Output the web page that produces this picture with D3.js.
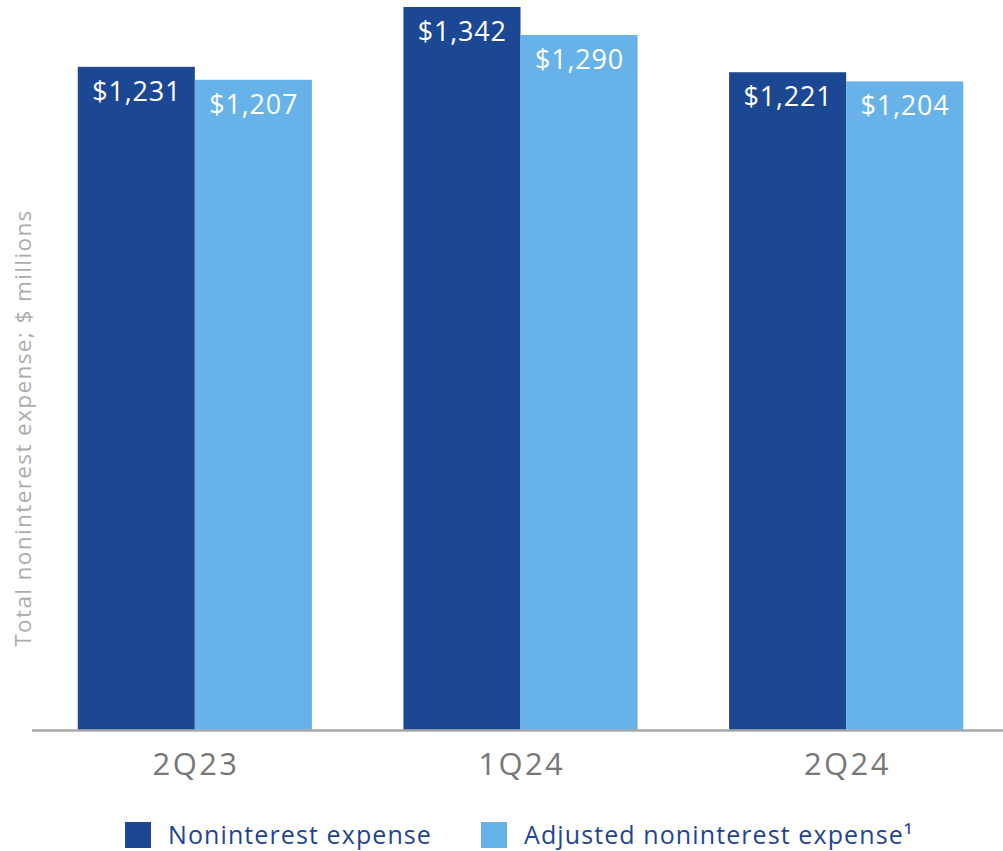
<!DOCTYPE html>
<html>
<head>
<meta charset="utf-8">
<script src="https://cdn.jsdelivr.net/npm/d3@7"></script>
<style>
  html, body { margin: 0; padding: 0; background: #fff; }
  svg { display: block; }
</style>
</head>
<body>
<svg id="chart" width="1003" height="851"></svg>
<script>
// Quarterly noninterest expense, $ millions
const quarters = ["2Q23", "1Q24", "2Q24"];
const seriesNames = ["Noninterest expense", "Adjusted noninterest expense\u00B9"];
const nonintExpense = [1231, 1342, 1221];
const adjustedExpense = [1207, 1290, 1204];
const yTitle = "Total noninterest expense; $ millions";

const colors = ["#1c4793", "#67b3e9"];
const fontFamily = "'Open Sans', 'Noto Sans', sans-serif";

const rows = quarters.map((q, i) => ({
  quarter: q,
  values: [nonintExpense[i], adjustedExpense[i]]
}));

const svg = d3.select("#chart");
const baseY = 730.5;
const topY = 7;

const x0 = d3.scaleBand()
  .domain(quarters)
  .range([32, 1009])
  .paddingInner(0.281)
  .paddingOuter(0.1405);

const x1 = d3.scaleBand()
  .domain([0, 1])
  .range([0, x0.bandwidth()]);

const y = d3.scaleLinear()
  .domain([0, 1342])
  .range([baseY, topY]);

// bars
const groups = svg.append("g").selectAll("g")
  .data(rows)
  .join("g")
  .attr("transform", d => `translate(${x0(d.quarter)},0)`);

groups.selectAll("rect")
  .data(d => d.values.map((v, k) => ({ v, k })))
  .join("rect")
  .attr("x", d => x1(d.k))
  .attr("width", x1.bandwidth())
  .attr("y", d => y(d.v))
  .attr("height", d => y(0) - y(d.v))
  .attr("fill", d => colors[d.k]);

// value labels inside the bar tops
groups.selectAll("text.val")
  .data(d => d.values.map((v, k) => ({ v, k })))
  .join("text")
  .attr("class", "val")
  .attr("x", d => x1(d.k) + x1.bandwidth() / 2 + 0.4)
  .attr("y", d => y(d.v) + 34)
  .attr("text-anchor", "middle")
  .attr("fill", "#fff")
  .attr("font-family", fontFamily)
  .attr("font-size", 27)
  .attr("letter-spacing", 0.8)
  .text(d => "$" + d3.format(",")(d.v));

// baseline / x axis
const xAxis = d3.axisBottom(x0).tickSize(0).tickPadding(0);
const axisG = svg.append("g")
  .attr("transform", `translate(0,${baseY})`)
  .call(xAxis);
axisG.select(".domain").remove();
axisG.append("line")
  .attr("x1", 32).attr("x2", 1003)
  .attr("y1", 0).attr("y2", 0)
  .attr("stroke", "#a9a9a9")
  .attr("stroke-width", 2.5);
axisG.selectAll(".tick text")
  .attr("dy", 0)
  .attr("y", 44)
  .attr("x", 1.2)
  .attr("fill", "#777")
  .attr("font-family", fontFamily)
  .attr("font-size", 31)
  .attr("letter-spacing", 2.4);

// y-axis title
svg.append("text")
  .attr("transform", "translate(31,428) rotate(-90)")
  .attr("text-anchor", "middle")
  .attr("fill", "#acacac")
  .attr("font-family", fontFamily)
  .attr("font-size", 22.5)
  .attr("letter-spacing", 1.4)
  .text(yTitle);

// legend
const legendItems = [
  { name: seriesNames[0], color: colors[0], x: 125 },
  { name: seriesNames[1], color: colors[1], x: 481 }
];
const lg = svg.append("g").selectAll("g")
  .data(legendItems)
  .join("g")
  .attr("transform", d => `translate(${d.x},822)`);
lg.append("rect")
  .attr("width", 26).attr("height", 26)
  .attr("fill", d => d.color);
lg.append("text")
  .attr("x", 43)
  .attr("y", 22)
  .attr("fill", "#1f4494")
  .attr("font-family", fontFamily)
  .attr("font-size", 25)
  .attr("letter-spacing", 1.1)
  .text(d => d.name);
</script>
</body>
</html>
